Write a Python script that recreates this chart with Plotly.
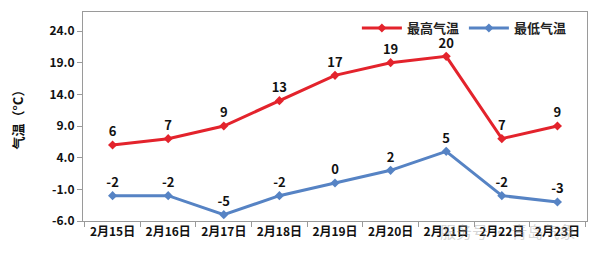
import plotly.graph_objects as go

dates = ["2月15日", "2月16日", "2月17日", "2月18日", "2月19日", "2月20日", "2月21日", "2月22日", "2月23日"]
high = [6, 7, 9, 13, 17, 19, 20, 7, 9]
low = [-2, -2, -5, -2, 0, 2, 5, -2, -3]
yticks = [-6, -1, 4, 9, 14, 19, 24]

FONT = "Noto Sans CJK SC"
fig = go.Figure()
fig.add_trace(go.Scatter(
    x=dates, y=high, name="最高气温", mode="lines+markers+text",
    line=dict(color="#E3232C", width=3), marker=dict(symbol="diamond", size=7),
    text=[str(v) for v in high], textposition="top center",
    textfont=dict(family=FONT, size=13, color="#111111", weight="bold"),
))
fig.add_trace(go.Scatter(
    x=dates, y=low, name="最低气温", mode="lines+markers+text",
    line=dict(color="#5683C4", width=3), marker=dict(symbol="diamond", size=7),
    text=[str(v) for v in low], textposition="top center",
    textfont=dict(family=FONT, size=13, color="#111111", weight="bold"),
))
fig.update_traces(cliponaxis=False)
fig.update_layout(
    width=600, height=256,
    margin=dict(l=83, r=13, t=12, b=35),
    paper_bgcolor="white", plot_bgcolor="white",
    font=dict(family=FONT, size=12, color="#111111"),
    showlegend=True,
    legend=dict(orientation="h", x=0.97, y=0.995, xanchor="right", yanchor="top",
                font=dict(family=FONT, size=13, color="#222222", weight="bold"),
                bgcolor="rgba(0,0,0,0)", itemwidth=40),
    xaxis=dict(showline=True, linecolor="#9a9a9a", linewidth=1, mirror=True,
               ticks="outside", tickcolor="#9a9a9a", ticklen=5,
               tickson="boundaries", showgrid=False,
               tickfont=dict(family=FONT, size=12, weight="bold", color="#111111")),
    yaxis=dict(range=[-6, 27], tickvals=yticks, ticktext=[f"{v:.1f}" for v in yticks],
               showline=True, linecolor="#9a9a9a", linewidth=1, mirror=True,
               ticks="outside", tickcolor="#9a9a9a", ticklen=5, showgrid=False,
               zeroline=False,
               tickfont=dict(family=FONT, size=12, weight="bold", color="#111111"),
               title=dict(text="气温（°C）", standoff=22,
                          font=dict(family=FONT, size=13, weight="bold", color="#111111"))),
)
fig.add_annotation(text="服务号 · 青岛气象", xref="paper", yref="paper", x=0.98, y=-0.05,
                   xanchor="right", yanchor="middle", showarrow=False,
                   font=dict(family=FONT, size=16, color="rgba(150,150,150,0.4)"))
fig.write_html("out.html")
